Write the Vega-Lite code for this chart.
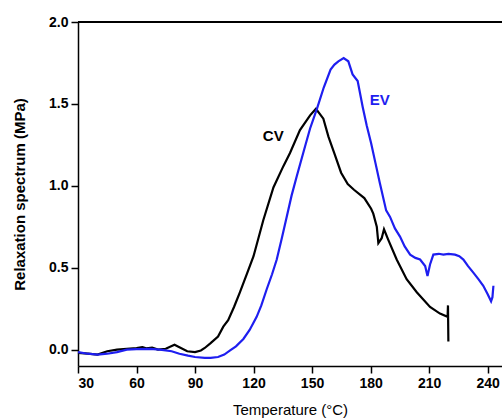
{
  "$schema": "https://vega.github.io/schema/vega-lite/v6.json",
  "autosize": "none",
  "width": 424,
  "height": 344,
  "padding": {"left": 78, "top": 22, "right": 0, "bottom": 53},
  "background": "white",
  "config": {
    "view": {"stroke": null},
    "font": "Liberation Sans",
    "axis": {"grid": false, "domainColor": "#000", "domainWidth": 1.5, "tickColor": "#000", "tickWidth": 1.5, "tickSize": 7, "labelColor": "#000", "titleColor": "#000", "labelFont": "Liberation Sans", "titleFont": "Liberation Sans"}
  },
  "datasets": {
    "curves": [
      {"T": 30, "v": -0.02, "s": "CV"},
      {"T": 35, "v": -0.025, "s": "CV"},
      {"T": 40, "v": -0.03, "s": "CV"},
      {"T": 45, "v": -0.01, "s": "CV"},
      {"T": 50, "v": 0.0, "s": "CV"},
      {"T": 55, "v": 0.005, "s": "CV"},
      {"T": 60, "v": 0.01, "s": "CV"},
      {"T": 63, "v": 0.015, "s": "CV"},
      {"T": 65, "v": 0.008, "s": "CV"},
      {"T": 68, "v": 0.012, "s": "CV"},
      {"T": 71, "v": 0.0, "s": "CV"},
      {"T": 75, "v": 0.005, "s": "CV"},
      {"T": 79.5, "v": 0.03, "s": "CV"},
      {"T": 82, "v": 0.015, "s": "CV"},
      {"T": 86, "v": -0.01, "s": "CV"},
      {"T": 90, "v": -0.015, "s": "CV"},
      {"T": 93, "v": -0.005, "s": "CV"},
      {"T": 95, "v": 0.01, "s": "CV"},
      {"T": 98, "v": 0.04, "s": "CV"},
      {"T": 101.8, "v": 0.08, "s": "CV"},
      {"T": 104.5, "v": 0.14, "s": "CV"},
      {"T": 107, "v": 0.18, "s": "CV"},
      {"T": 110, "v": 0.26, "s": "CV"},
      {"T": 113, "v": 0.35, "s": "CV"},
      {"T": 116.5, "v": 0.46, "s": "CV"},
      {"T": 120, "v": 0.57, "s": "CV"},
      {"T": 125, "v": 0.79, "s": "CV"},
      {"T": 130.2, "v": 0.99, "s": "CV"},
      {"T": 135.3, "v": 1.12, "s": "CV"},
      {"T": 138.7, "v": 1.2, "s": "CV"},
      {"T": 143.8, "v": 1.34, "s": "CV"},
      {"T": 149, "v": 1.43, "s": "CV"},
      {"T": 152, "v": 1.47, "s": "CV"},
      {"T": 155.8, "v": 1.41, "s": "CV"},
      {"T": 158.4, "v": 1.3, "s": "CV"},
      {"T": 161.4, "v": 1.2, "s": "CV"},
      {"T": 164.9, "v": 1.08, "s": "CV"},
      {"T": 168.3, "v": 1.01, "s": "CV"},
      {"T": 171.5, "v": 0.976, "s": "CV"},
      {"T": 176.8, "v": 0.925, "s": "CV"},
      {"T": 180.3, "v": 0.86, "s": "CV"},
      {"T": 181.4, "v": 0.83, "s": "CV"},
      {"T": 183.2, "v": 0.75, "s": "CV"},
      {"T": 184, "v": 0.65, "s": "CV"},
      {"T": 185.7, "v": 0.68, "s": "CV"},
      {"T": 186.9, "v": 0.735, "s": "CV"},
      {"T": 189.1, "v": 0.67, "s": "CV"},
      {"T": 193.4, "v": 0.55, "s": "CV"},
      {"T": 198.5, "v": 0.43, "s": "CV"},
      {"T": 203.7, "v": 0.35, "s": "CV"},
      {"T": 210.5, "v": 0.26, "s": "CV"},
      {"T": 215.6, "v": 0.22, "s": "CV"},
      {"T": 219.5, "v": 0.2, "s": "CV"},
      {"T": 219.7, "v": 0.27, "s": "CV"},
      {"T": 219.9, "v": 0.05, "s": "CV"},
      {"T": 30, "v": -0.015, "s": "EV"},
      {"T": 35, "v": -0.025, "s": "EV"},
      {"T": 40, "v": -0.03, "s": "EV"},
      {"T": 45, "v": -0.025, "s": "EV"},
      {"T": 50, "v": -0.015, "s": "EV"},
      {"T": 55, "v": 0.0, "s": "EV"},
      {"T": 60, "v": 0.003, "s": "EV"},
      {"T": 67, "v": 0.004, "s": "EV"},
      {"T": 72, "v": 0.0, "s": "EV"},
      {"T": 78, "v": -0.01, "s": "EV"},
      {"T": 82, "v": -0.025, "s": "EV"},
      {"T": 86.4, "v": -0.037, "s": "EV"},
      {"T": 90, "v": -0.045, "s": "EV"},
      {"T": 95, "v": -0.05, "s": "EV"},
      {"T": 98, "v": -0.05, "s": "EV"},
      {"T": 101.8, "v": -0.045, "s": "EV"},
      {"T": 105, "v": -0.03, "s": "EV"},
      {"T": 108, "v": -0.005, "s": "EV"},
      {"T": 111, "v": 0.02, "s": "EV"},
      {"T": 114.8, "v": 0.065, "s": "EV"},
      {"T": 118, "v": 0.12, "s": "EV"},
      {"T": 121.6, "v": 0.2, "s": "EV"},
      {"T": 124, "v": 0.27, "s": "EV"},
      {"T": 126.8, "v": 0.37, "s": "EV"},
      {"T": 129.5, "v": 0.46, "s": "EV"},
      {"T": 131.9, "v": 0.55, "s": "EV"},
      {"T": 134.5, "v": 0.68, "s": "EV"},
      {"T": 137, "v": 0.81, "s": "EV"},
      {"T": 139.5, "v": 0.94, "s": "EV"},
      {"T": 142.2, "v": 1.06, "s": "EV"},
      {"T": 146.4, "v": 1.24, "s": "EV"},
      {"T": 149, "v": 1.35, "s": "EV"},
      {"T": 152.5, "v": 1.47, "s": "EV"},
      {"T": 156, "v": 1.6, "s": "EV"},
      {"T": 159.5, "v": 1.71, "s": "EV"},
      {"T": 161.5, "v": 1.74, "s": "EV"},
      {"T": 163.5, "v": 1.76, "s": "EV"},
      {"T": 166.2, "v": 1.78, "s": "EV"},
      {"T": 168.6, "v": 1.76, "s": "EV"},
      {"T": 170.8, "v": 1.68, "s": "EV"},
      {"T": 173.4, "v": 1.64, "s": "EV"},
      {"T": 176, "v": 1.48, "s": "EV"},
      {"T": 178, "v": 1.37, "s": "EV"},
      {"T": 180.3, "v": 1.26, "s": "EV"},
      {"T": 182.5, "v": 1.14, "s": "EV"},
      {"T": 184.7, "v": 1.02, "s": "EV"},
      {"T": 188, "v": 0.85, "s": "EV"},
      {"T": 190, "v": 0.81, "s": "EV"},
      {"T": 192.5, "v": 0.74, "s": "EV"},
      {"T": 195.1, "v": 0.69, "s": "EV"},
      {"T": 197.5, "v": 0.63, "s": "EV"},
      {"T": 200.3, "v": 0.58, "s": "EV"},
      {"T": 203, "v": 0.56, "s": "EV"},
      {"T": 205.4, "v": 0.55, "s": "EV"},
      {"T": 208, "v": 0.51, "s": "EV"},
      {"T": 209.2, "v": 0.45, "s": "EV"},
      {"T": 210.5, "v": 0.52, "s": "EV"},
      {"T": 212.2, "v": 0.58, "s": "EV"},
      {"T": 215, "v": 0.585, "s": "EV"},
      {"T": 217.3, "v": 0.58, "s": "EV"},
      {"T": 220, "v": 0.585, "s": "EV"},
      {"T": 223.3, "v": 0.58, "s": "EV"},
      {"T": 225.5, "v": 0.57, "s": "EV"},
      {"T": 227.6, "v": 0.55, "s": "EV"},
      {"T": 230, "v": 0.51, "s": "EV"},
      {"T": 232.7, "v": 0.47, "s": "EV"},
      {"T": 235.3, "v": 0.43, "s": "EV"},
      {"T": 237.8, "v": 0.39, "s": "EV"},
      {"T": 240, "v": 0.34, "s": "EV"},
      {"T": 241.8, "v": 0.295, "s": "EV"},
      {"T": 242.5, "v": 0.32, "s": "EV"},
      {"T": 243, "v": 0.39, "s": "EV"}
    ],
    "labels": [
      {"T": 130.1, "v": 1.305, "s": "CV"},
      {"T": 184.7, "v": 1.524, "s": "EV"}
    ],
    "top": [{"v": 2.0}]
  },
  "layer": [
    {
      "data": {"name": "curves"},
      "mark": {"type": "line", "strokeWidth": 2.2, "interpolate": "linear"},
      "encoding": {
        "x": {
          "field": "T", "type": "quantitative",
          "scale": {"domain": [30, 247.4], "nice": false, "zero": false},
          "axis": {"values": [30, 60, 90, 120, 150, 180, 210, 240], "labelFontSize": 14, "labelFontWeight": "bold", "labelPadding": 3, "title": "Temperature (°C)", "titleFontSize": 15, "titleFontWeight": "normal", "titleBaseline": "alphabetic", "titleY": 48}
        },
        "y": {
          "field": "v", "type": "quantitative",
          "scale": {"domain": [-0.1, 2.0], "nice": false, "zero": false},
          "axis": {"values": [0, 0.5, 1.0, 1.5, 2.0], "format": ".1f", "labelFontSize": 14, "labelFontWeight": "bold", "labelPadding": 3, "title": "Relaxation spectrum (MPa)", "titleFontSize": 15, "titleFontWeight": "bold", "titleBaseline": "alphabetic", "titleX": -54}
        },
        "color": {
          "field": "s", "type": "nominal",
          "scale": {"domain": ["CV", "EV"], "range": ["#000000", "#1e1ef0"]},
          "legend": null
        }
      }
    },
    {
      "data": {"name": "labels"},
      "mark": {"type": "text", "fontSize": 15, "fontWeight": "bold", "font": "Liberation Sans", "align": "center", "baseline": "middle"},
      "encoding": {
        "x": {"field": "T", "type": "quantitative"},
        "y": {"field": "v", "type": "quantitative"},
        "text": {"field": "s"},
        "color": {"field": "s", "type": "nominal", "legend": null}
      }
    },
    {
      "data": {"name": "top"},
      "mark": {"type": "rule", "color": "#000", "strokeWidth": 2},
      "encoding": {"y": {"field": "v", "type": "quantitative"}}
    }
  ]
}
